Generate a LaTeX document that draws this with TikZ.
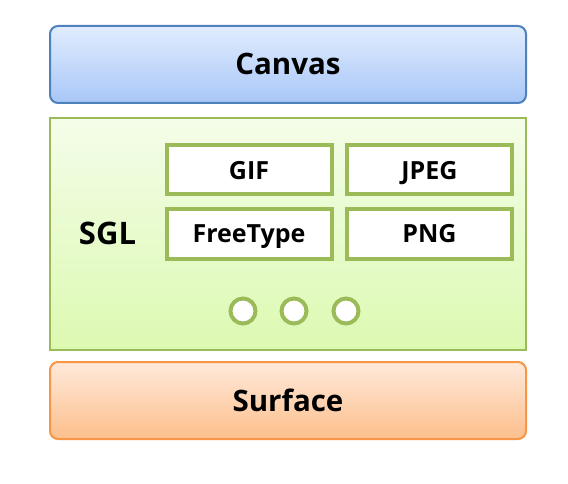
\documentclass[tikz,border=0pt]{standalone}
\usepackage{fontspec}
\setmainfont{Open Sans}
\usetikzlibrary{shadings}
\definecolor{bluebd}{HTML}{4F81BD}
\definecolor{bluetop}{HTML}{E1ECFE}
\definecolor{bluebot}{HTML}{A8C7F7}
\definecolor{greenbd}{HTML}{9BBB59}
\definecolor{greentop}{HTML}{F4FDE9}
\definecolor{greenbot}{HTML}{DCF9B1}
\definecolor{orangebd}{HTML}{F79646}
\definecolor{orangetop}{HTML}{FFE9DA}
\definecolor{orangebot}{HTML}{FCBF8C}
\tikzset{
  layer/.style={rounded corners=8pt, line width=2pt, minimum width=476pt, minimum height=77pt, inner sep=0pt, text height=21pt, text depth=0pt, font=\fontsize{29.5}{33}\selectfont\bfseries},
  modbox/.style={draw=greenbd, fill=white, line width=4pt, minimum width=165pt, minimum height=49pt, inner sep=0pt, text height=18pt, text depth=0pt, font=\fontsize{25}{29}\selectfont\bfseries},
  dot/.style={circle, draw=greenbd, fill=white, line width=4pt, minimum size=25pt, inner sep=0pt},
}
\begin{document}
\begin{tikzpicture}[x=1pt,y=-1pt]
\useasboundingbox (0,0) rectangle (568,484);
\node[layer, draw=bluebd, top color=bluetop, bottom color=bluebot] (canvas) at (288,64.5) {Canvas};
\node[draw=greenbd, line width=1.5pt, top color=greentop, bottom color=greenbot, minimum width=476pt, minimum height=232pt, inner sep=0pt] (sgl) at (288,234) {};
\node[font=\fontsize{31}{35}\selectfont\bfseries, text height=22pt, text depth=0pt, inner sep=0pt] (sgllabel) at (107.5,233.3) {SGL};
\node[modbox] (gif) at (249,170) {GIF};
\node[modbox] (jpeg) at (429.5,170) {JPEG};
\node[modbox] (freetype) at (249,234) {FreeType};
\node[modbox] (png) at (429.5,234) {PNG};
\node[dot] (d1) at (243,311) {};
\node[dot] (d2) at (294,311) {};
\node[dot] (d3) at (346,311) {};
\node[layer, draw=orangebd, top color=orangetop, bottom color=orangebot] (surface) at (288,400.5) {Surface};
\end{tikzpicture}
\end{document}
